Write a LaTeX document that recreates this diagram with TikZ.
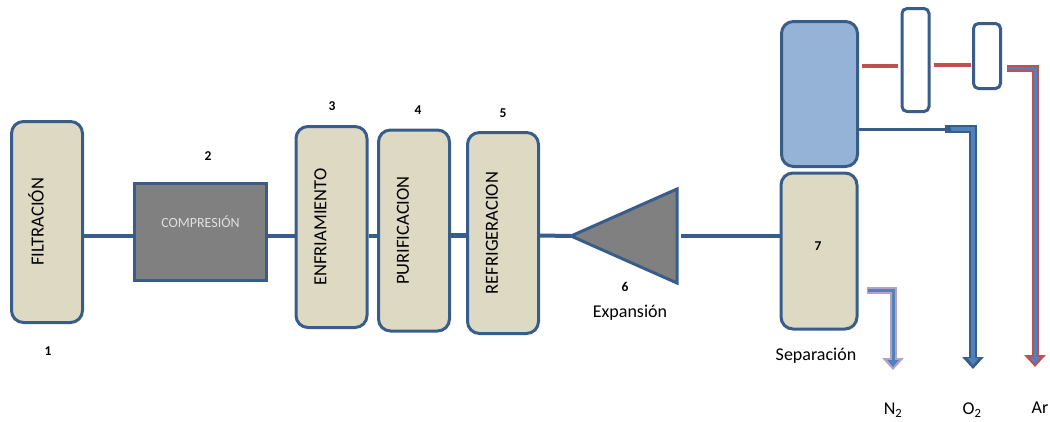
\documentclass[tikz,border=0pt]{standalone}
\usepackage{fontspec}
\setmainfont{Carlito}
\usepackage{graphicx}
\definecolor{bd}{RGB}{56,93,138}
\definecolor{cb}{RGB}{221,217,195}
\definecolor{cg}{RGB}{128,128,128}
\definecolor{cu}{RGB}{149,179,215}
\definecolor{cr}{RGB}{192,80,77}
\definecolor{cl}{RGB}{179,162,199}
\definecolor{ci}{RGB}{79,129,189}
\usetikzlibrary{positioning}
\usetikzlibrary{arrows.meta}

\begin{document}
\begin{tikzpicture}
		[x=1pt,y=-1pt,every node/.style={inner sep=0pt},
		 unit/.style={rounded corners=12pt, fill=cb, draw=bd, line width=3pt, minimum width=71pt, minimum height=201pt,
		   label={[xshift=-11pt,font=\fontsize{18.5}{20}\selectfont]center:\rotatebox{90}{#1}}},
		 num/.style={font=\fontsize{13.5}{15}\selectfont\bfseries},
		 txt/.style={font=\fontsize{18}{20}\selectfont},
		 pipe/.style={line width=4pt, color=bd},
		 col/.style={rounded corners=5pt, fill=white, draw=bd, line width=3pt, minimum width=27pt},
		 bighead/.style={-{Triangle[width=21pt,length=12pt]}},
		 smallhead/.style={-{Triangle[width=11pt,length=7pt]}}]
		\useasboundingbox (0,0) rectangle (1050,421);
		\coordinate (lvl) at (0,235.5);
		% process line
		\node (filt) [unit=FILTRACIÓN] at (47,222) {};
		\node (comp) [fill=cg, draw=bd, line width=3pt, minimum width=132pt, minimum height=97pt,
		  label={[yshift=10pt,text=gray!25,font=\fontsize{14}{16}\selectfont]center:COMPRESIÓN}] at (200.5,232) {};
		\node (enfr) [unit=ENFRIAMIENTO] at (331.5,227) {};
		\node (puri) [unit=PURIFICACION] at (414,230.5) {};
		\node (refr) [unit=REFRIGERACION] at (503,233) {};
		\node (n1) [num] at (48,351) {1};
		\node (n2) [num] at (208,156) {2};
		\node (n3) [num] at (332,106) {3};
		\node (n4) [num] at (418,110) {4};
		\node (n5) [num] at (503,113) {5};
		\draw [pipe] (filt.east |- lvl) to (comp.west |- lvl);
		\draw [pipe] (comp.east |- lvl) to (enfr.west |- lvl);
		\draw [pipe] (enfr.east |- lvl) to (puri.west |- lvl);
		\draw [pipe, line width=5.5pt] (puri.east |- lvl) to (refr.west |- lvl);
		% expansion
		\coordinate (exptip) at (571,236);
		\coordinate (expbase) at (677,236);
		\draw [fill=cg, draw=bd, line width=3pt] (exptip) -- ([yshift=47pt]expbase) -- ([yshift=-47pt]expbase) -- cycle;
		\node (n6) [num] at (625,287) {6};
		\node (expl) [txt] at (630,313) {Expansión};
		\draw [pipe] (refr.east |- lvl) to (exptip);
		% separation
		\node (sept) [fill=cu, draw=bd, line width=3pt, rounded corners=12pt, minimum width=76pt, minimum height=145pt] at (819.5,94) {};
		\node (sepb) [fill=cb, draw=bd, line width=3pt, rounded corners=12pt, minimum width=76pt, minimum height=156pt] at (819,251) {};
		\node (n7) [num] at (818,246) {7};
		\node (sepl) [txt] at (816,356) {Separación};
		\draw [pipe, shorten <=4pt] (expbase) to (expbase -| sepb.west);
		\node (col1) [col, minimum height=103pt] at (915.5,60) {};
		\node (col2) [col, minimum height=65pt] at (987,56) {};
		\coordinate (ra) at ([yshift=28pt]sept.east);
		\coordinate (rb) at ([yshift=-5pt]col1.east);
		\coordinate (rc) at ([yshift=-12pt]col2.east);
		\coordinate (ob) at ([yshift=-35pt]sept.east);
		\coordinate (oc) at (945,129);
		\coordinate (na) at ([yshift=-39pt]sepb.east);
		\draw [line width=4pt, color=cr, shorten <=3pt, shorten >=3pt] (ra) to (ra -| col1.west);
		\draw [line width=4pt, color=cr, shorten <=3pt, shorten >=1pt] (rb) to (rb -| col2.west);
		% products
		\node (n2l) [txt] at (893,410) {N\textsubscript{2}};
		\node (o2l) [txt] at (972,410) {O\textsubscript{2}};
		\node (arl) [txt] at (1040,408) {Ar};
		\coordinate (n2end) at (893,370);
		\coordinate (o2end) at (973,369);
		\coordinate (arend) at (1035,367);
		\draw [line width=7pt, color=cl, bighead, shorten <=8pt] (na) -| (n2end);
		\draw [line width=3pt, color=ci, smallhead, shorten <=9pt, shorten >=3pt] (na) -| (n2end);
		\draw [pipe, line width=3pt] (ob) to (oc);
		\draw [line width=8pt, color=bd, bighead] (oc) -| (o2end);
		\draw [line width=3.5pt, color=ci, smallhead, shorten <=6pt, shorten >=4pt] (oc) -| (o2end);
		\draw [line width=7pt, color=cr, bighead, shorten <=5pt] (rc) -| (arend);
		\draw [line width=3pt, color=ci, smallhead, shorten <=6pt, shorten >=3pt] (rc) -| (arend);
\end{tikzpicture}
\end{document}
